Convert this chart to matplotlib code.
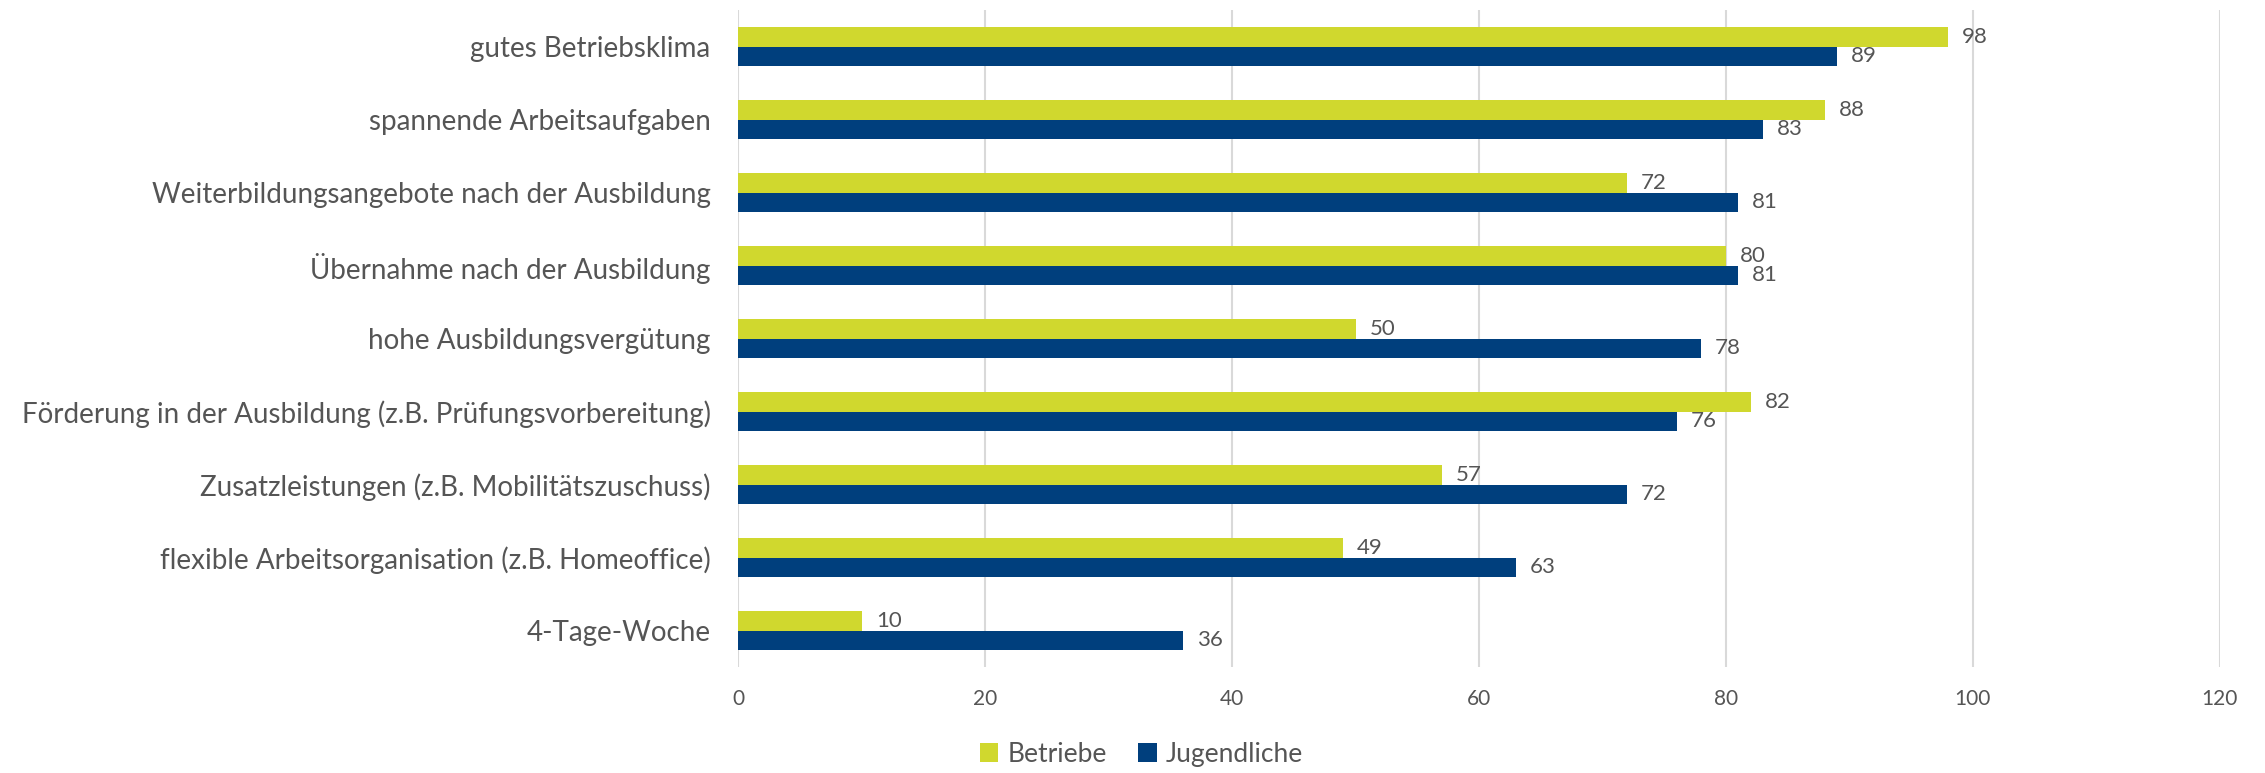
import matplotlib
matplotlib.use("Agg")
import matplotlib.pyplot as plt
import numpy as np

categories = [
    "gutes Betriebsklima",
    "spannende Arbeitsaufgaben",
    "Weiterbildungsangebote nach der Ausbildung",
    "Übernahme nach der Ausbildung",
    "hohe Ausbildungsvergütung",
    "Förderung in der Ausbildung (z.B. Prüfungsvorbereitung)",
    "Zusatzleistungen (z.B. Mobilitätszuschuss)",
    "flexible Arbeitsorganisation (z.B. Homeoffice)",
    "4-Tage-Woche",
]
betriebe = [98, 88, 72, 80, 50, 82, 57, 49, 10]
jugendliche = [89, 83, 81, 81, 78, 76, 72, 63, 36]
xticks = [0, 20, 40, 60, 80, 100, 120]

GREEN = "#D0D82E"
BLUE = "#003F7D"
TEXT = "#555555"

plt.rcParams["font.family"] = ["Lato", "DejaVu Sans"]

fig = plt.figure(figsize=(22.65, 7.73), dpi=100)
ax = fig.add_axes([0.326, 0.137, 0.654, 0.850])

y = np.arange(len(categories))
h = 0.265
b1 = ax.barh(y - h / 2, betriebe, height=h, color=GREEN, label="Betriebe", zorder=3)
b2 = ax.barh(y + h / 2, jugendliche, height=h, color=BLUE, label="Jugendliche", zorder=3)

for bars, vals in ((b1, betriebe), (b2, jugendliche)):
    for bar, v in zip(bars, vals):
        ax.annotate(str(v), (v, bar.get_y() + bar.get_height() / 2),
                    textcoords="offset points", xytext=(10, 0),
                    va="center", ha="left", fontsize=16, color=TEXT)

ax.set_ylim(len(categories) - 0.5, -0.5)
ax.set_xlim(0, 120)
ax.set_yticks(y)
ax.set_yticklabels(categories, fontsize=20, color=TEXT)
ax.set_xticks(xticks)
ax.set_xticklabels([str(t) for t in xticks], fontsize=15, color=TEXT)
ax.tick_params(axis="both", length=0)
ax.tick_params(axis="x", pad=16)
ax.tick_params(axis="y", pad=20)
ax.grid(axis="x", color="#D9D9D9", lw=1.5, zorder=0)
for s in ax.spines.values():
    s.set_visible(False)

fig.legend(handles=[b1, b2], loc="center", bbox_to_anchor=(0.504, 0.024),
           ncol=2, frameon=False, fontsize=19, handlelength=0.7, handleheight=0.7,
           handletextpad=0.35, columnspacing=1.2, labelcolor=TEXT)

fig.savefig("out.png", dpi=100)
